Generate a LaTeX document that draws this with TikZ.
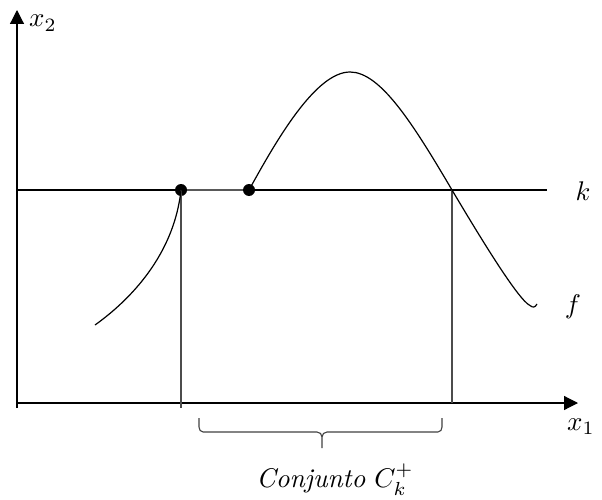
\documentclass[tikz,border=0pt]{standalone}
\usetikzlibrary{arrows.meta}
\newcommand{\bigtxt}[1]{\scalebox{2.7}{#1}}
\begin{document}
\begin{tikzpicture}[x=1pt,y=-1pt,
  axis/.style={line width=1.2pt,-{Triangle[length=14pt,width=14pt]}},
  thinline/.style={line width=1.1pt},
  guide/.style={line width=1.2pt,draw=black!70},
  dot/.style={circle,fill=black,inner sep=0pt,minimum size=12pt},
  lbl/.style={inner sep=0pt},
  curve/.style={line width=1.2pt}]
\useasboundingbox (0,0) rectangle (602,500);
% axes
\coordinate (ybot) at (17,408);
\coordinate (ytop) at (17,10);
\coordinate (xl) at (17,403);
\coordinate (xr) at (578,403);
\draw[axis] (ybot) -- (ytop);
\draw[axis] (xl) -- (xr);
% level line k
\coordinate (kl) at (17,190);
\coordinate (kr) at (547,190);
\draw[thinline] (kl) -- (kr);
% dots
\node[dot] (d1) at (181,190) {};
\node[dot] (d2) at (249,190) {};
\draw[line width=2.4pt,draw=black!65] (d1) -- (d2);
% verticals
\coordinate (v1b) at (181,408);
\coordinate (v2t) at (452,190);
\coordinate (v2b) at (452,403);
\draw[guide] (d1.center) -- (v1b);
\draw[guide] (v2t) -- (v2b);
% curve f
\coordinate (fa) at (95,325);
\coordinate (fp) at (350,72);
\coordinate (fe) at (530,305.5);
\coordinate (fz) at (537,304);
\draw[curve] (fa) .. controls (130,300) and (174,255) .. (d1.center);
\draw[curve,line join=round] (d2.center) .. controls (275,143) and (315,72) .. (fp)
  .. controls (380,72) and (412,122) .. (v2t)
  .. controls (477,232) and (518,300) .. (fe)
  .. controls (533,308) and (535,307.5) .. (fz);
% brace
\coordinate (bl) at (199,418);
\coordinate (br) at (442,418);
\coordinate (bt) at (322,448);
\draw[line width=1.1pt,draw=black!75,line join=round]
  (bl) -- (199,427) to[out=-90,in=180] (203,432) -- (317,432) to[out=0,in=90] (322,437) -- (bt)
  (322,437) to[out=90,in=180] (327,432) -- (438,432) to[out=0,in=-90] (442,427) -- (br);
% labels
\node[lbl,anchor=base west] (lx2) at (29,27) {\bigtxt{$x_2$}};
\node[lbl,anchor=base west] (lx1) at (567,430) {\bigtxt{$x_1$}};
\node[lbl,anchor=base] (lk) at (583,200) {\bigtxt{$k$}};
\node[lbl,anchor=base] (lf) at (573,313) {\bigtxt{$f$}};
\node[lbl,anchor=base] (lc) at (335,487) {\bigtxt{\textit{Conjunto} $C_k^+$}};
\end{tikzpicture}
\end{document}
